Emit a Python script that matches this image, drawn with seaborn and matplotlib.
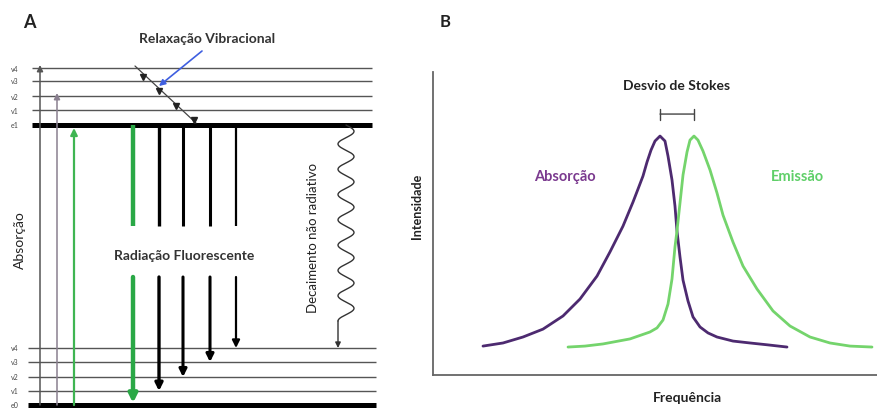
import numpy as np
import pandas as pd
import matplotlib
matplotlib.use('Agg')
import matplotlib.pyplot as plt
import seaborn as sns

# ---------------- Panel B data ----------------
abs_freq = [11.26, 15.77, 20.27, 24.77, 29.28, 33.11, 36.94, 39.86, 42.79, 45.05, 46.17,
            47.30, 48.20, 49.10, 50.00, 51.13, 52.25, 52.93, 53.83, 54.50, 54.95, 55.63,
            56.31, 57.43, 58.56, 60.14, 61.94, 63.96, 67.57, 71.40, 75.45, 79.73]
abs_int = [0.121, 0.134, 0.159, 0.192, 0.247, 0.318, 0.414, 0.515, 0.623, 0.724, 0.778,
           0.833, 0.891, 0.941, 0.979, 1.000, 0.979, 0.916, 0.816, 0.707, 0.603, 0.494,
           0.397, 0.310, 0.243, 0.201, 0.176, 0.159, 0.142, 0.134, 0.126, 0.117]
em_freq = [30.41, 34.23, 38.29, 44.37, 48.87, 50.45, 51.80, 52.93, 53.83, 54.50, 54.95,
           55.63, 56.31, 57.21, 57.88, 58.78, 59.68, 60.81, 62.39, 63.96, 65.32, 67.57,
           69.82, 72.97, 76.58, 80.41, 84.91, 89.41, 93.92, 98.87]
em_int = [0.117, 0.121, 0.130, 0.151, 0.180, 0.197, 0.230, 0.297, 0.402, 0.536, 0.603,
          0.720, 0.837, 0.933, 0.983, 1.000, 0.983, 0.937, 0.858, 0.762, 0.669, 0.556,
          0.456, 0.360, 0.268, 0.205, 0.159, 0.134, 0.121, 0.117]

# ---------------- Panel A data (energy levels, diagram units) ----------------
upper_labels = ['v4', 'v3', 'v2', 'v1', 'e1']
upper_levels = [69, 82, 97, 111, 126]
lower_labels = ['v4', 'v3', 'v2', 'v1', 'e0']
lower_levels = [349, 363, 378, 392, 406]
absorb_targets = ['v4', 'v2']             # grey absorption arrows to upper levels
fluor_targets = ['v1', 'v2', 'v3', 'v4']  # black fluorescence arrows to lower levels

sns.set_theme(style='white')
plt.rcParams['font.family'] = ['Lato', 'DejaVu Sans']

fig = plt.figure(figsize=(8.77, 4.10), dpi=100)
fig.patch.set_facecolor('white')

# ======================= Panel A =======================
axA = fig.add_axes([0, 0, 420 / 877, 1])
axA.set_xlim(0, 420)
axA.set_ylim(410, 0)
axA.axis('off')

up = dict(zip(upper_labels, upper_levels))
lo = dict(zip(lower_labels, lower_levels))
txt = '#333333'

for lab, y in zip(upper_labels, upper_levels):
    thick = lab.startswith('e')
    axA.plot([32, 372], [y, y], color='black' if thick else '#555555',
             lw=3.6 if thick else 1.0, solid_capstyle='butt', zorder=2)
    axA.text(15, y, lab, fontsize=5, color='#444444', ha='center', va='center')
for lab, y in zip(lower_labels, lower_levels):
    thick = lab.startswith('e')
    axA.plot([28, 376], [y, y], color='black' if thick else '#555555',
             lw=3.6 if thick else 1.0, solid_capstyle='butt', zorder=2)
    axA.text(15, y, lab, fontsize=5, color='#444444', ha='center', va='center')

def arrow(ax, x0, y0, x1, y1, color, lw, ms):
    ax.annotate('', xy=(x1, y1), xytext=(x0, y0),
                arrowprops=dict(arrowstyle='-|>', color=color, lw=lw,
                                mutation_scale=ms, shrinkA=0, shrinkB=0),
                zorder=3)

# grey absorption arrows
for x, lab, col in zip([40, 57], absorb_targets, ['#555555', '#8a8090']):
    arrow(axA, x, lo['e0'], x, up[lab] - 3, col, 1.1, 9)

# thin green absorption arrow
arrow(axA, 74, lo['e0'], 74, up['e1'] + 3, '#3fb552', 1.6, 10)

# thick green fluorescence arrow (broken)
axA.plot([133, 133], [up['e1'], 227], color='#2aa846', lw=3.2, solid_capstyle='butt')
arrow(axA, 133, 278, 133, lo['e0'] - 2, '#2aa846', 3.2, 12)

# black fluorescence arrows (broken)
for x, lab, lw in zip([159, 183, 210, 236], fluor_targets, [2.4, 2.2, 2.2, 1.6]):
    axA.plot([x, x], [up['e1'], 227], color='black', lw=lw, solid_capstyle='butt')
    arrow(axA, x, 278, x, lo[lab], 'black', lw, 11)

# vibrational relaxation cascade
axA.plot([135, 196], [67, 124], color='#444444', lw=0.9, zorder=3)
for (mx, my) in [(143, 78), (159, 92), (176, 107), (194, 121)]:
    axA.plot(mx, my, marker='v', color='#222222', markersize=5, zorder=4)
axA.annotate('', xy=(159, 87), xytext=(202, 52),
             arrowprops=dict(arrowstyle='-|>', color='#3f5fe0', lw=1.2,
                             mutation_scale=9, shrinkA=0, shrinkB=0))

# non-radiative decay (wavy line)
yy = np.linspace(up['e1'], 322, 400)
xx = 346 + 8 * np.sin(2 * np.pi * 7.75 * (yy - up['e1']) / (322 - up['e1']))
axA.plot(xx, yy, color='#333333', lw=1.0)
arrow(axA, 338, 322, 338, lo['v4'], '#333333', 1.0, 8)

# texts
axA.text(23, 22, 'A', fontsize=13, fontweight='bold', color='#222222', ha='left', va='center')
axA.text(207, 39, 'Relaxação Vibracional', fontsize=10, fontweight='bold', color=txt,
         ha='center', va='center')
axA.text(184, 256, 'Radiação Fluorescente', fontsize=10, fontweight='bold', color=txt,
         ha='center', va='center')
axA.text(313, 238, 'Decaimento não radiativo', fontsize=9.5, color='#222222',
         ha='center', va='center', rotation=90)
axA.text(20, 240, 'Absorção', fontsize=10, color='#222222', ha='center', va='center',
         rotation=90)

# ======================= Panel B =======================
axB = fig.add_axes([433 / 877, (410 - 376) / 410, (877 - 433) / 877, (376 - 73) / 410])
axB.set_facecolor('white')
df_abs = pd.DataFrame({'freq': abs_freq, 'inten': abs_int})
df_em = pd.DataFrame({'freq': em_freq, 'inten': em_int})
sns.lineplot(data=df_abs, x='freq', y='inten', ax=axB, color='#4d2a70', lw=2.0,
             sort=False, estimator=None, solid_joinstyle='round', solid_capstyle='round')
sns.lineplot(data=df_em, x='freq', y='inten', ax=axB, color='#74d46c', lw=2.0,
             sort=False, estimator=None, solid_joinstyle='round', solid_capstyle='round')
axB.set_xlim(0, 100)
axB.set_ylim(0, 1.268)
axB.set_xticks([])
axB.set_yticks([])
axB.set_xlabel('')
axB.set_ylabel('')
for s in ['top', 'right']:
    axB.spines[s].set_visible(False)
for s in ['left', 'bottom']:
    axB.spines[s].set_color('#666666')
    axB.spines[s].set_linewidth(1.3)

# Stokes shift bracket between peaks
pa = abs_freq[int(np.argmax(abs_int))]
pe = em_freq[int(np.argmax(em_int))]
axB.annotate('', xy=(pe, 1.092), xytext=(pa, 1.092),
             arrowprops=dict(arrowstyle='|-|', color='#444444', lw=1.0,
                             mutation_scale=4, shrinkA=0, shrinkB=0))
axB.text((pa + pe) / 2, 1.213, 'Desvio de Stokes', fontsize=10, fontweight='bold',
         color='#222222', ha='center', va='center')
axB.text(29.7, 0.833, 'Absorção', fontsize=10.5, fontweight='bold', color='#7b3a8f',
         ha='center', va='center')
axB.text(82.0, 0.833, 'Emissão', fontsize=10.5, fontweight='bold', color='#5fcf68',
         ha='center', va='center')
axB.text(0.572, -0.0726, 'Frequência', transform=axB.transAxes, fontsize=10,
         fontweight='bold', color='#222222', ha='center', va='center')
axB.text(-0.036, 0.561, 'Intensidade', transform=axB.transAxes, fontsize=9,
         fontweight='bold', color='#222222', ha='center', va='center', rotation=90)
fig.text(440 / 877, 1 - 22 / 410, 'B', fontsize=12, fontweight='bold', color='#222222',
         ha='left', va='center')

fig.savefig('out.png', dpi=100, facecolor='white')
